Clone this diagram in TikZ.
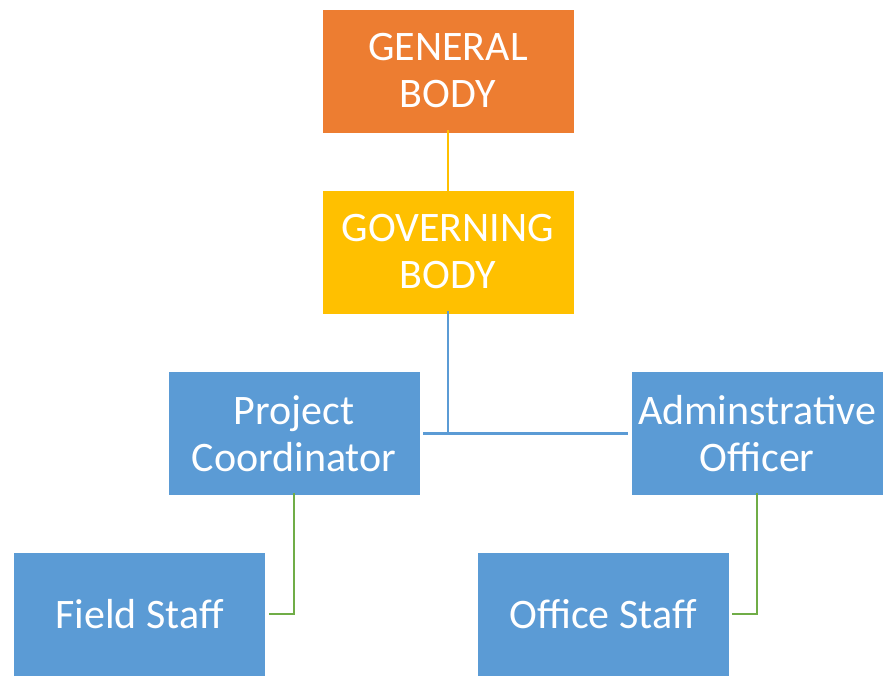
\documentclass[tikz,border=0pt]{standalone}
\usepackage{fontspec}
\setmainfont{Carlito}
\definecolor{orgC}{HTML}{ED7D31}
\definecolor{yelC}{HTML}{FFC000}
\definecolor{bluC}{HTML}{5B9BD5}
\definecolor{grnC}{HTML}{70AD47}
\begin{document}
\begin{tikzpicture}[x=1pt,y=-1pt,
  box/.style={draw=white,line width=0.8pt,minimum width=252pt,minimum height=124pt,inner sep=0pt,
    text=white,align=center,font=\fontsize{42}{47}\selectfont},
  link/.style={line width=2.6pt}]
\useasboundingbox (0,0) rectangle (883,675);
\node[box,fill=orgC] (gen) at (448,71) {GENERAL\\BODY};
\node[box,fill=yelC] (gov) at (448,252) {GOVERNING\\BODY};
\node[box,fill=bluC] (pc) at (294,433.5) {Project\\Coordinator};
\node[box,fill=bluC] (ao) at (757,433.5) {Adminstrative\\Officer};
\node[box,fill=bluC] (fs) at (139.5,614) {Field Staff};
\node[box,fill=bluC] (os) at (603,614) {Office Staff};
\coordinate (j) at (gov.south |- pc.east);
\draw[link,yelC] ([yshift=3pt]gen.south) -- ([yshift=-3pt]gov.north);
\draw[link,bluC] ([yshift=3pt]gov.south) -- (j);
\draw[link,bluC] ([xshift=3pt]pc.east) -- ([xshift=-3pt]ao.west);
\draw[link,grnC] ([yshift=3pt]pc.south) |- ([xshift=3pt]fs.east);
\draw[link,grnC] ([yshift=3pt]ao.south) |- ([xshift=3pt]os.east);
\end{tikzpicture}
\end{document}
